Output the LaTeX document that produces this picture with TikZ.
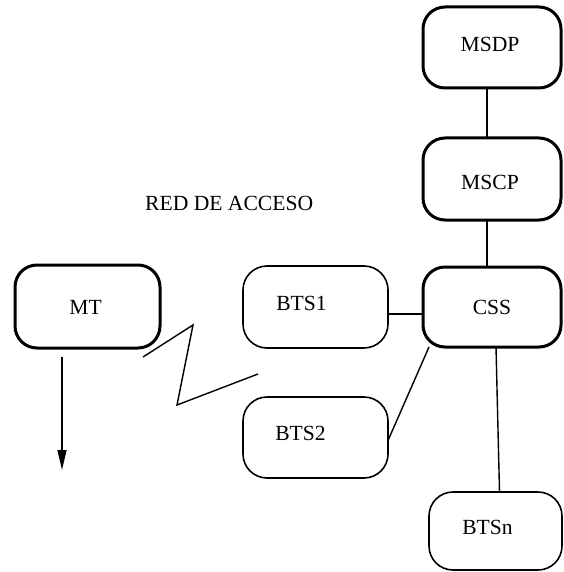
\documentclass[tikz,border=0pt]{standalone}
\usepackage{fontspec}
\setmainfont{Liberation Serif}
\usetikzlibrary{arrows.meta}
\begin{document}
\begin{tikzpicture}[x=1pt,y=-1pt,
  font=\fontsize{21.6}{26}\selectfont,
  unit/.style={draw, rounded corners=22pt, line width=3pt, inner sep=0pt, outer sep=0pt},
  bts/.style={draw, rounded corners=24pt, line width=1.6pt, inner sep=0pt, outer sep=0pt},
  link/.style={line width=1.4pt}]
\useasboundingbox (0,0) rectangle (563,572);

% core network units
\node[unit, minimum width=138pt, minimum height=81pt,
  label={[xshift=-2pt,yshift=3pt]center:MSDP}] (MSDP) at (492,47.5) {};
\node[unit, minimum width=138pt, minimum height=82pt,
  label={[xshift=-2pt,yshift=-3pt]center:MSCP}] (MSCP) at (492,179) {};
\node[unit, minimum width=138pt, minimum height=80pt,
  label={center:CSS}] (CSS) at (492,307) {};

% mobile terminal
\node[unit, minimum width=145pt, minimum height=83pt,
  label={[xshift=-2pt,yshift=-1pt]center:MT}] (MT) at (87.5,306.5) {};

% base stations
\node[bts, minimum width=145pt, minimum height=82pt,
  label={[xshift=-14pt,yshift=4pt]center:BTS1}] (BTS1) at (315.5,307) {};
\node[bts, minimum width=145pt, minimum height=81pt,
  label={[xshift=-15pt,yshift=4pt]center:BTS2}] (BTS2) at (315.5,437.5) {};
\node[bts, minimum width=133pt, minimum height=78pt,
  label={[xshift=-8pt,yshift=4pt]center:BTSn}] (BTSn) at (495.5,531) {};

% access network caption
\node[anchor=west, inner sep=0pt] (red) at (145,203) {RED DE ACCESO};

% wired links
\draw[link] ([xshift=-5pt]MSDP.south) -- ([xshift=-5pt]MSCP.north);
\draw[link] ([xshift=-5pt]MSCP.south) -- ([xshift=-5pt]CSS.north);
\draw[link] ([yshift=-7pt]BTS1.east) -- ([yshift=-7pt]BTS1.east -| CSS.west);
\draw[link] ([yshift=-3pt]BTS2.east) -- ([xshift=6pt]CSS.south west);
\draw[link] ([xshift=4pt]CSS.south) -- ([xshift=4pt]BTSn.north);

% radio link
\draw[link] (143,357) -- (193,325) -- (177,405) -- (258,374);

% terminal output arrow
\coordinate (out) at (62,470);
\draw[link, -{Triangle[length=20pt,width=9pt]}] ([xshift=-25.5pt,yshift=-9pt]MT.south) -- (out);
\end{tikzpicture}
\end{document}
